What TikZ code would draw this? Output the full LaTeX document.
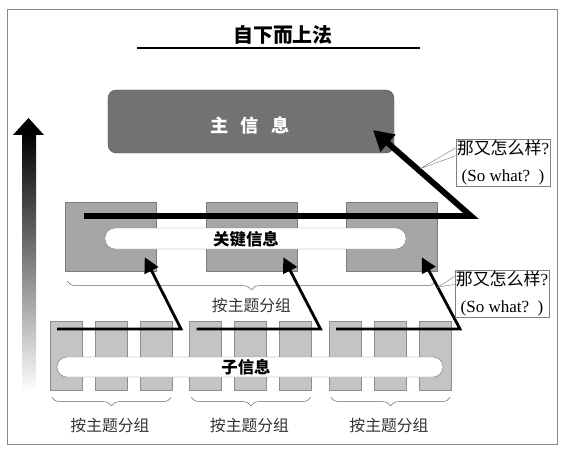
\documentclass[tikz,border=0pt]{standalone}
\usepackage{fontspec}
\setmainfont{Liberation Serif}
\newfontfamily\cjk{Noto Sans CJK SC}
\usetikzlibrary{positioning}
\usetikzlibrary{calc}
\usetikzlibrary{arrows.meta}
\usetikzlibrary{decorations.pathreplacing}

\definecolor{mainfill}{HTML}{727272}
\definecolor{mainline}{HTML}{555555}
\definecolor{keyfill}{HTML}{A6A6A6}
\definecolor{keyline}{HTML}{7C7C7C}
\definecolor{subfill}{HTML}{C4C4C4}
\definecolor{subline}{HTML}{8E8E8E}
\definecolor{frameline}{HTML}{8A8A8A}

\tikzset{
    mainbox/.style={draw=mainline, fill=mainfill, rounded corners=0.25cm, minimum width=8.58cm, minimum height=1.89cm},
    keybox/.style={draw=keyline, fill=keyfill, minimum width=2.73cm, minimum height=2.07cm},
    subbox/.style={draw=subline, fill=subfill, minimum width=0.96cm, minimum height=2.07cm},
    pill/.style={draw=gray, fill=white, rounded corners=0.3cm},
    pilltext/.style={font=\cjk\bfseries\fontsize{14}{16}\selectfont},
    callout/.style={draw=gray, fill=white, align=center, inner sep=0.8pt, font=\fontsize{14.5}{23}\selectfont},
    calloutline/.style={draw=gray, thin},
    bigarrow/.style={line width=5pt, -{Triangle[length=6mm, width=6.5mm]}},
    smallarrow/.style={line width=2.4pt, -{Triangle[length=4.5mm, width=4.5mm]}},
    groupbrace/.style={draw=black!60, thin, decorate, decoration={brace, mirror, amplitude=2.6mm}},
    grouplabel/.style={font=\cjk\fontsize{13.5}{16}\selectfont, text=black!80}
}

\begin{document}
\begin{tikzpicture}[x=0.03cm, y=-0.03cm]

    \pgfmathsetmacro{\gap}{139.5}

    \useasboundingbox (0,0) rectangle (565,452);

    % Draw frame and title
    \draw[frameline, line width=0.8pt] (7,9) rectangle (557,444);
    \node[font=\cjk\bfseries\fontsize{17}{20}\selectfont] (title) at (283,35) {自下而上法};
    \draw[line width=1pt] (137,48) -- (420,48);

    % Draw rising arrow on the left
    \shade[top color=black, bottom color=white] (22,133) rectangle (36,392);
    \fill (13,135) -- (28.5,118) -- (44,135) -- cycle;

    % Draw main message
    \node[mainbox] (main) at (251,121.5) {};
    \node[text=white, font=\cjk\bfseries\fontsize{15.5}{17}\selectfont] (mainlabel) at (250,126) {主\hspace{0.7em}信\hspace{0.7em}息};

    % Draw key messages
    \foreach \i in {0,1,2} {
        \node[keybox] (key\i) at (111+\i*140.5, 236.5) {};
    }
    \node[pill, minimum width=9.03cm, minimum height=0.63cm] (keypill) at (255.5,238.5) {};
    \node[pilltext] (keylabel) at (246,239) {关键信息};

    \draw[groupbrace] ($(key0.south west)+(2,10)$) -- ($(key2.south east)+(-2,10)$);
    \node[grouplabel] (keygroup) at ($(key1.south)+(0,34)$) {按主题分组};

    % Draw sub messages
    \foreach \g in {0,1,2} {
        \foreach \k in {0,1,2} {
            \node[subbox] (sub\g\k) at (66+\g*\gap+\k*45, 355.5) {};
        }
        \draw[groupbrace] ($(sub\g0.south west)+(2,7)$) -- ($(sub\g2.south east)+(-1,7)$);
        \node[grouplabel] (subgroup\g) at ($(sub\g1.south)+(-1,35)$) {按主题分组};
    }
    \node[pill, minimum width=11.58cm, minimum height=0.6cm] (subpill) at (250,367) {};
    \node[pilltext] (sublabel) at (246,367) {子信息};

    % Draw so-what arrows
    \foreach \g in {0,1,2} {
        \coordinate (start\g) at (57+\g*\gap, 329);
        \coordinate (corner\g) at (181+\g*\gap, 329);
        \coordinate (keytip\g) at ($(key\g.south east)+(-12-2*\g,-14)$);
        \draw[smallarrow] (start\g) -- (corner\g) -- (keytip\g);
    }

    \coordinate (keystart) at (84,216);
    \coordinate (keycorner) at (471,216);
    \coordinate (maintip) at (373,130);
    \draw[bigarrow] (keystart) -- (keycorner) -- (maintip);

    % Draw callouts
    \node[callout] (what1) at (503,162.5) {{\cjk 那又怎么样}?\\(So what?\ \ )};
    \coordinate (tip1) at ($(keycorner)!0.55!(maintip)+(3,0)$);
    \draw[calloutline] ($(what1.north west)+(0,9)$) -- (tip1) -- ($(what1.north west)+(0,17)$);

    \node[callout] (what2) at (502,294) {{\cjk 那又怎么样}?\\(So what?\ \ )};
    \coordinate (tip2) at ($(key2.south east)+(0,16)$);
    \draw[calloutline] ($(what2.north west)+(0,6)$) -- (tip2) -- ($(what2.north west)+(0,14)$);

\end{tikzpicture}
\end{document}
